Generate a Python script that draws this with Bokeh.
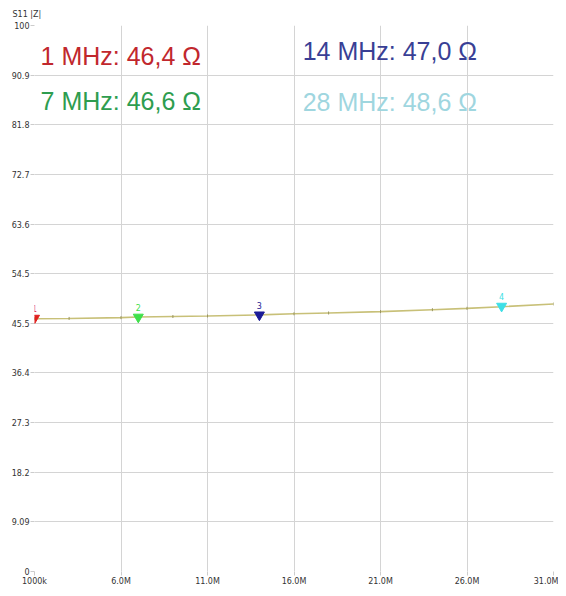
from bokeh.plotting import figure
from bokeh.models import FixedTicker, Range1d, ColumnDataSource, Title
from bokeh.core.properties import value
from bokeh.embed import file_html
from bokeh.resources import INLINE

# Trace data (MHz, |Z| ohms)
freq_mhz = [1, 3, 6, 7, 9, 11, 14, 16, 18, 21, 24, 26, 28, 31]
impedance = [46.3, 46.35, 46.5, 46.6, 46.7, 46.8, 47.0, 47.2, 47.35, 47.6, 47.95, 48.2, 48.5, 49.0]

# Markers
marker_freq = [1, 7, 14, 28]
marker_val = [46.4, 46.6, 47.0, 48.6]
marker_name = ["1", "2", "3", "4"]
marker_colors = ["#e0201e", "#3ee04a", "#1c1c96", "#3fdfe6"]

# Readout texts
readout_text = ["1 MHz: 46,4 Ω", "7 MHz: 46,6 Ω", "14 MHz: 47,0 Ω", "28 MHz: 48,6 Ω"]
readout_colors = ["#c1272d", "#2e9d4f", "#393f95", "#9fd6df"]
readout_x = [1.35, 1.35, 16.5, 16.5]
readout_y = [94.5, 86.1, 95.4, 85.9]

# Axis ticks
x_ticks = [1, 6, 11, 16, 21, 26, 31]
x_tick_labels = ["1000k", "6.0M", "11.0M", "16.0M", "21.0M", "26.0M", "31.0M"]
y_ticks = [0, 9.09, 18.2, 27.3, 36.4, 45.5, 54.5, 63.6, 72.7, 81.8, 90.9, 100]
y_tick_labels = ["0", "9.09", "18.2", "27.3", "36.4", "45.5", "54.5", "63.6", "72.7", "81.8", "90.9", "100"]

p = figure(width=558, height=588, output_backend="svg", toolbar_location=None,
           x_range=Range1d(1, 31), y_range=Range1d(0, 100),
           min_border_left=34, min_border_right=5, min_border_top=4, min_border_bottom=15)
p.outline_line_color = None
p.background_fill_color = "white"
p.border_fill_color = "white"

t = Title(text="S11 |Z|", text_font_size="8px", text_font="DejaVu Sans",
          text_font_style="normal", text_color="#333333", align="left", offset=-22,
          standoff=14)
p.add_layout(t, "above")

for ax in (p.xaxis[0], p.yaxis[0]):
    ax.axis_line_color = None
    ax.major_tick_line_color = "#cccccc"
    ax.minor_tick_line_color = None
    ax.major_label_text_font = "DejaVu Sans"
    ax.major_label_text_font_size = "8px"
    ax.major_label_text_color = "#333333"

p.xaxis.ticker = FixedTicker(ticks=x_ticks)
p.xaxis.major_label_overrides = {t_: l for t_, l in zip(x_ticks, x_tick_labels)}
p.xaxis.major_tick_in = 0
p.xaxis.major_tick_out = 4
p.xaxis.major_label_standoff = 1

p.yaxis.ticker = FixedTicker(ticks=y_ticks)
p.yaxis.major_label_overrides = {t_: l for t_, l in zip(y_ticks, y_tick_labels)}
p.yaxis.major_tick_in = 0
p.yaxis.major_tick_out = 4
p.yaxis.major_label_standoff = 1

p.xgrid.ticker = FixedTicker(ticks=x_ticks)
p.ygrid.ticker = FixedTicker(ticks=y_ticks)
p.grid.grid_line_color = "#d4d4d4"
p.grid.grid_line_width = 1

# Trace
p.line(freq_mhz, impedance, line_color="#c8c078", line_width=1.6)
p.scatter(freq_mhz, impedance, marker="dash", size=3, angle=1.5708, line_color="#9a9560")

# Markers
msrc = ColumnDataSource(dict(x=marker_freq, y=marker_val, name=marker_name, c=marker_colors))
p.scatter("x", "y", source=msrc, marker="inverted_triangle", size=10,
          fill_color="c", line_color="c")
p.text("x", "y", text="name", source=msrc, text_color="c", text_font_size="8px",
       text_font=value("DejaVu Sans"), text_align="center", text_baseline="bottom",
       y_offset=-6)

# Readouts
rsrc = ColumnDataSource(dict(x=readout_x, y=readout_y, t=readout_text, c=readout_colors))
p.text("x", "y", text="t", source=rsrc, text_color="c", text_font_size="25px",
       text_font=value("Liberation Sans"), text_align="left", text_baseline="middle")

open("out.html", "w").write(file_html(p, INLINE))
